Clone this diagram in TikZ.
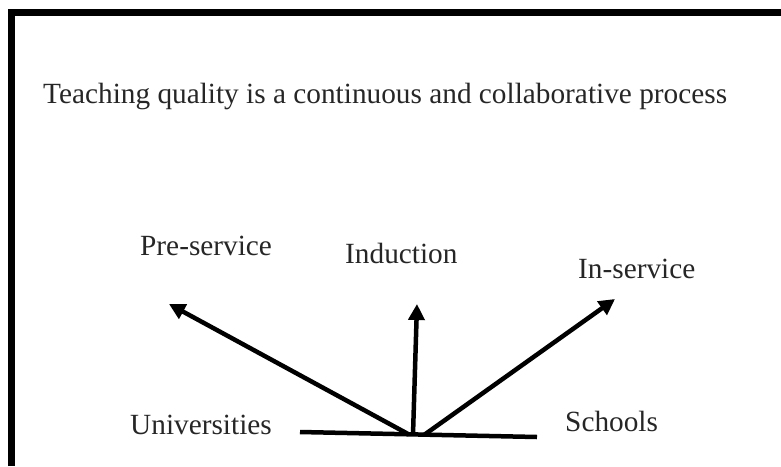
\documentclass[tikz,border=0pt]{standalone}
\usepackage{fontspec}
\setmainfont{Liberation Serif}
\usetikzlibrary{arrows.meta}

\tikzset{
  lbl/.style={anchor=base west, inner sep=0pt, text=black!85,
    font=\fontsize{29.3}{34}\selectfont},
  stem/.style={line width=4.5pt, -{Triangle[length=16pt,width=16pt]}},
}

\begin{document}
\begin{tikzpicture}[x=1pt,y=-1pt]
\useasboundingbox (0,0) rectangle (781,466);
% frame, open at the right and the bottom
\draw[line width=7pt, line join=miter] (11,466) -- (11,12.5) -- (781,12.5);

\node[lbl] (title) at (43,103) {Teaching quality is a continuous and collaborative process};

\node[lbl] (pre) at (140,255) {Pre-service};
\node[lbl] (ind) at (345,263) {Induction};
\node[lbl] (ins) at (578,278) {In-service};
\node[lbl] (uni) at (130,434) {Universities};
\node[lbl] (sch) at (565,431) {Schools};

% ground line and the three arrows leaving it
\coordinate (gl) at (300,432);
\coordinate (gr) at (537,437);
\coordinate (o1) at (409,434.5);
\coordinate (o2) at (413,434.5);
\coordinate (o3) at (424,435);
\coordinate (t1) at (169,304);
\coordinate (t2) at (417,304);
\coordinate (t3) at (615,299);
\draw[line width=4.5pt] (gl) -- (gr);
\draw[stem] (o1) -- (t1);
\draw[stem] (o2) -- (t2);
\draw[stem] (o3) -- (t3);
\end{tikzpicture}
\end{document}
